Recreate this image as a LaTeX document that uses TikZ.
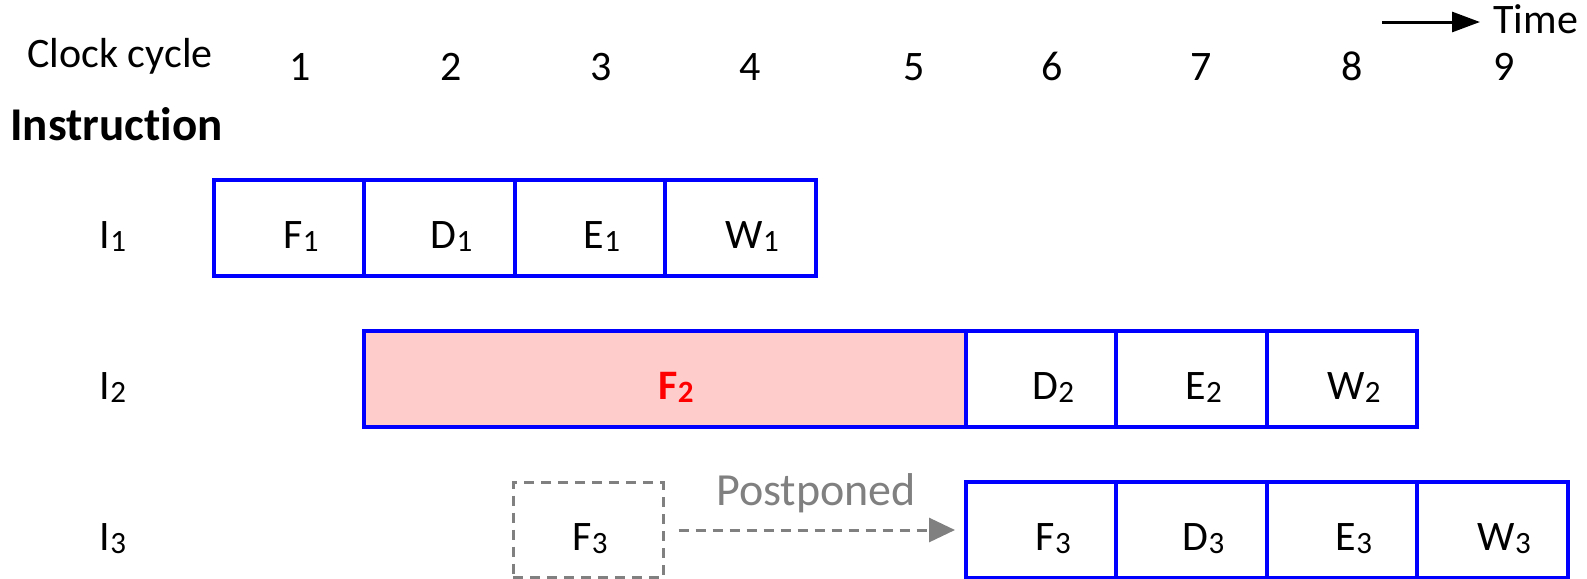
\documentclass[tikz,border=0pt]{standalone}
\usepackage{fontspec}
\setmainfont{Carlito}[Ligatures=NoCommon]
\usetikzlibrary{arrows.meta,positioning}
\definecolor{cpblue}{RGB}{0,0,255}
\definecolor{cpred}{RGB}{255,0,0}
\definecolor{cppink}{RGB}{255,204,204}
\definecolor{cpgray}{RGB}{128,128,128}
\newcommand{\subidx}[1]{\raisebox{-1.5pt}{\fontsize{15.5}{16}\selectfont #1}}

\begin{document}
\begin{tikzpicture}[x=0.5pt, y=-0.5pt,
  lbl/.style={font=\fontsize{21}{25}\selectfont, inner sep=0pt, anchor=base},
  stage/.style={draw=cpblue, line width=2pt, minimum width=75.2pt, minimum height=48pt, inner sep=0pt},
  ghost/.style={draw=cpgray, line width=1.5pt, dash pattern=on 5pt off 3.5pt,
                minimum width=75pt, minimum height=47.5pt, inner sep=0pt}]
  \useasboundingbox (0,0) rectangle (1587,579);

  % header: cycles and time axis
  \node[lbl] (clock) at (120,67) {Clock cycle};
  \foreach \c/\x in {1/300, 2/451, 3/601, 4/750, 5/914, 6/1052, 7/1201, 8/1352, 9/1504}
    \node[lbl] (cyc\c) at (\x,80) {\c};
  \node[lbl, anchor=base west, font=\fontsize{23.5}{28}\selectfont\bfseries] (instr) at (10,140) {Instruct\kern0pt ion};
  \node[lbl, anchor=base west] (time) at (1493,33) {Time};
  \coordinate (tstart) at (1382,22);
  \draw[line width=1.5pt, -{Triangle[length=14pt,width=10pt]}, shorten >=6.5pt]
    (tstart) -- (tstart -| time.west);

  % instruction names
  \foreach \r/\y in {1/228, 2/379, 3/530}
    \node[lbl] (I\r) at (113,\y+20) {I\subidx{\r}};

  % I1: four stages in a row
  \foreach \s [count=\k from 0] in {F,D,E,W} {
    \node[stage] (s1\s) at (289.2+150.4*\k,228) {};
    \node[lbl] (t1\s) at ([shift={(12,20)}]s1\s.center) {\s\subidx{1}};
  }

  % I2: stalled fetch, then the rest
  \node[stage, fill=cppink, minimum width=301pt] (s2F) at (665,379) {};
  \node[lbl, text=cpred, font=\fontsize{21}{25}\selectfont\bfseries] (t2F) at ([shift={(11,20)}]s2F.center) {F\subidx{2}};
  \foreach \s [count=\k from 5] in {D,E,W} {
    \node[stage] (s2\s) at (289.2+150.4*\k,379) {};
    \node[lbl] (t2\s) at ([shift={(12,20)}]s2\s.center) {\s\subidx{2}};
  }

  % I3: fetch moved to cycle 6
  \node[ghost] (g3F) at (588,530) {};
  \node[lbl] (tg3F) at ([shift={(2,20)}]g3F.center) {F\subidx{3}};
  \foreach \s [count=\k from 5] in {F,D,E,W} {
    \node[stage] (s3\s) at (289.2+150.4*\k,530) {};
    \node[lbl] (t3\s) at ([shift={(12,20)}]s3\s.center) {\s\subidx{3}};
  }
  \draw[cpgray, line width=1.5pt, dash pattern=on 5pt off 3.5pt,
        -{Triangle[length=13pt,width=12pt]}, shorten <=7pt, shorten >=4.5pt]
    (g3F) -- (s3F);
  \node[lbl, text=cpgray, font=\fontsize{23}{27}\selectfont] (post) at (816,505) {Postponed};
\end{tikzpicture}
\end{document}
